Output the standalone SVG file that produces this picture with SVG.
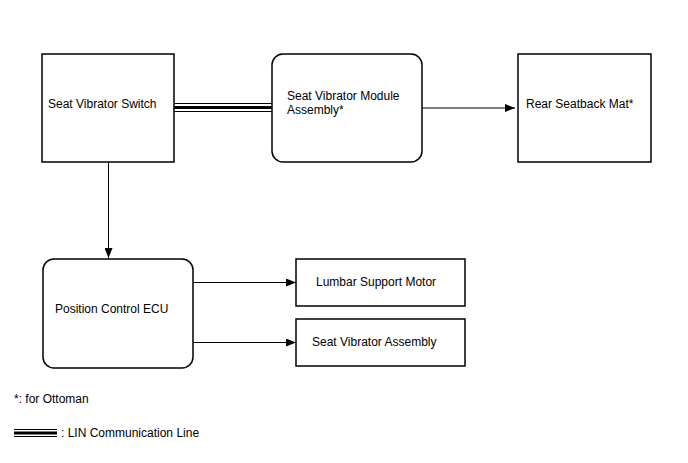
<svg xmlns="http://www.w3.org/2000/svg" width="688" height="463" viewBox="0 0 688 463">
<style>
text{font-family:"Liberation Sans",Arial,sans-serif;font-size:12px;fill:#000}
.box{fill:#fff;stroke:#000;stroke-width:1.5}
.ln{stroke:#000;stroke-width:1;fill:none}
</style>
<defs>
<marker id="ah" markerWidth="10" markerHeight="8" refX="10" refY="4" orient="auto" markerUnits="userSpaceOnUse">
<path d="M0,0 L10,4 L0,8 Z" fill="#000"/>
</marker>
</defs>
<rect width="688" height="463" fill="#fff"/>
<g id="connectors">
<line class="ln" x1="174" y1="103.5" x2="272" y2="103.5"/>
<line x1="174" y1="107.5" x2="272" y2="107.5" stroke="#000" stroke-width="3"/>
<line class="ln" x1="174" y1="111.5" x2="272" y2="111.5"/>
<line class="ln" x1="422" y1="108" x2="515" y2="108" marker-end="url(#ah)"/>
<line class="ln" x1="108.5" y1="162" x2="108.5" y2="258" marker-end="url(#ah)"/>
<line class="ln" x1="193" y1="282.5" x2="296" y2="282.5" marker-end="url(#ah)"/>
<line class="ln" x1="193" y1="342.5" x2="296" y2="342.5" marker-end="url(#ah)"/>
</g>
<g id="switch">
<rect class="box" x="42" y="54" width="132" height="108"/>
<text x="48" y="108">Seat Vibrator Switch</text>
</g>
<g id="module">
<rect class="box" x="272" y="54" width="150" height="108" rx="11"/>
<text x="287" y="100">Seat Vibrator Module</text>
<text x="287" y="114">Assembly*</text>
</g>
<g id="mat">
<rect class="box" x="518" y="54" width="133" height="108"/>
<text x="526" y="108">Rear Seatback Mat*</text>
</g>
<g id="ecu">
<rect class="box" x="43" y="259" width="150" height="109" rx="11"/>
<text x="55" y="313">Position Control ECU</text>
</g>
<g id="lumbar">
<rect class="box" x="296" y="259" width="169" height="47"/>
<text x="316" y="286">Lumbar Support Motor</text>
</g>
<g id="vibrator">
<rect class="box" x="296" y="319" width="169" height="47"/>
<text x="312" y="346">Seat Vibrator Assembly</text>
</g>
<g id="legend">
<text x="14" y="403">*: for Ottoman</text>
<line class="ln" x1="14" y1="429.5" x2="57" y2="429.5"/>
<line x1="14" y1="433" x2="57" y2="433" stroke="#000" stroke-width="3"/>
<line class="ln" x1="14" y1="436.5" x2="57" y2="436.5"/>
<text x="61" y="437">: LIN Communication Line</text>
</g>
</svg>
